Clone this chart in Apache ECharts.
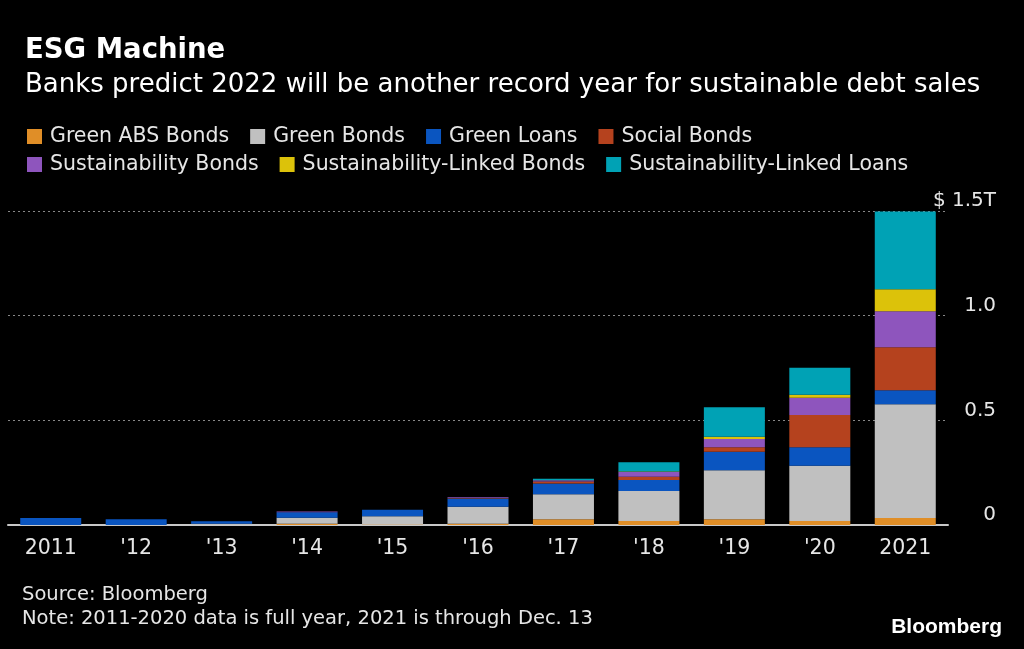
<!DOCTYPE html>
<html>
<head>
<meta charset="UTF-8">
<script src="https://cdn.jsdelivr.net/npm/echarts@6/dist/echarts.min.js"></script>
<style>html,body{margin:0;background:#000}#main{width:1024px;height:649px}</style>
</head>
<body>
<div id="main"></div>
<script>
var years = ["2011", "'12", "'13", "'14", "'15", "'16", "'17", "'18", "'19", "'20", "2021"];
var greenAbs   = [0, 0, 0, 0.006, 0.002, 0.006, 0.027, 0.019, 0.027, 0.019, 0.033];
var greenBonds = [0, 0, 0.006, 0.029, 0.04, 0.081, 0.12, 0.143, 0.234, 0.264, 0.544];
var greenLoans = [0.033, 0.027, 0.012, 0.026, 0.031, 0.04, 0.051, 0.053, 0.089, 0.089, 0.067];
var socialBonds = [0, 0, 0, 0, 0, 0.002, 0.01, 0.016, 0.021, 0.153, 0.205];
var sustBonds  = [0, 0, 0, 0.004, 0, 0.004, 0.006, 0.022, 0.04, 0.083, 0.172];
var slBonds    = [0, 0, 0, 0, 0, 0, 0, 0.002, 0.01, 0.014, 0.105];
var slLoans    = [0, 0, 0, 0, 0, 0, 0.007, 0.045, 0.142, 0.129, 0.372];

var names = ['Green ABS Bonds','Green Bonds','Green Loans','Social Bonds','Sustainability Bonds','Sustainability-Linked Bonds','Sustainability-Linked Loans'];
var colors = ['#e08e27','#c0c0c0','#0a55c0','#b5421e','#8e55bd','#dcc20a','#00a2b5'];
var values = [greenAbs, greenBonds, greenLoans, socialBonds, sustBonds, slBonds, slLoans];

var chart = echarts.init(document.getElementById('main'));
var legendStyle = {icon: 'rect', itemWidth: 15, itemHeight: 15, itemGap: 21,
  textStyle: {color: '#e6e6e6', fontSize: 20.5, fontFamily: 'DejaVu Sans', padding: [0, 0, 0, 3]}};
chart.setOption({
  backgroundColor: '#000',
  color: colors,
  title: [
    {text: 'ESG Machine', left: 20, top: 32, textStyle: {color: '#fff', fontSize: 27.5, fontWeight: 'bold', fontFamily: 'DejaVu Sans'}},
    {text: 'Banks predict 2022 will be another record year for sustainable debt sales', left: 20, top: 67,
     textStyle: {color: '#fff', fontSize: 26, fontWeight: 'normal', fontFamily: 'DejaVu Sans'}}
  ],
  legend: [
    Object.assign({data: names.slice(0, 4), left: 22, top: 121}, legendStyle),
    Object.assign({data: names.slice(4), left: 22, top: 149}, legendStyle)
  ],
  grid: {left: 8, right: 76, top: 211, bottom: 124},
  xAxis: {type: 'category', data: years,
    axisLine: {lineStyle: {color: '#c8c8c8', width: 2}}, axisTick: {show: false},
    axisLabel: {color: '#e6e6e6', fontSize: 20.5, fontFamily: 'DejaVu Sans', margin: 13}},
  yAxis: {type: 'value', position: 'right', min: 0, max: 1.5, interval: 0.5,
    splitLine: {lineStyle: {color: '#888', type: [2, 3]}},
    axisLine: {show: false}, axisTick: {show: false},
    axisLabel: {color: '#e6e6e6', fontSize: 20, fontFamily: 'DejaVu Sans', align: 'right', margin: 48,
      verticalAlign: 'bottom',
      formatter: function (v) { return v === 1.5 ? '$ 1.5T' : v === 0 ? '0' : v.toFixed(1); }}},
  series: values.map(function (d, i) {
    return {name: names[i], type: 'bar', stack: 'all', data: d, barWidth: 61};
  }),
  graphic: [
    {type: 'text', left: 22, top: 585, style: {text: 'Source: Bloomberg', fill: '#e6e6e6', font: '19.5px DejaVu Sans'}},
    {type: 'text', left: 22, top: 609, style: {text: 'Note: 2011-2020 data is full year, 2021 is through Dec. 13', fill: '#e6e6e6', font: '19.5px DejaVu Sans'}},
    {type: 'text', right: 22, top: 617, style: {text: 'Bloomberg', fill: '#fff', font: 'bold 21px Liberation Sans'}}
  ]
});
</script>
</body>
</html>
